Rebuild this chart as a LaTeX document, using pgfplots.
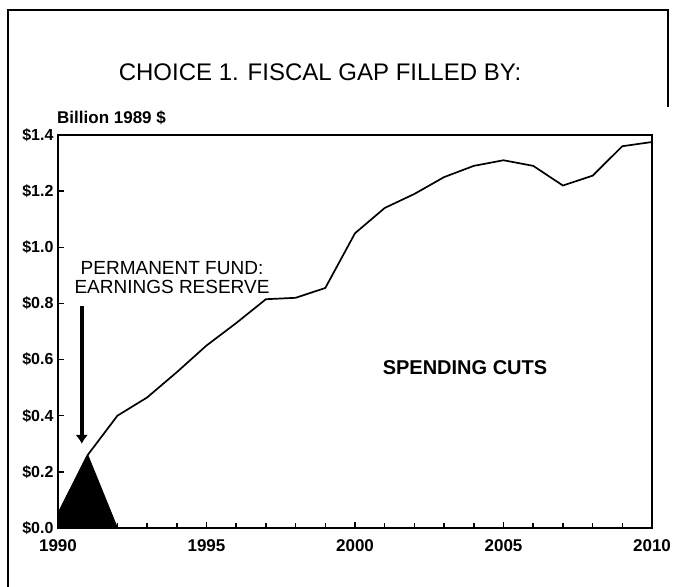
\documentclass[border=0pt]{standalone}
\usepackage{pgfplots}
\pgfplotsset{compat=1.18}
\usepackage{fontspec}
\setmainfont{Liberation Sans}
\usetikzlibrary{arrows.meta}

\begin{document}
\begin{tikzpicture}[x=1bp,y=1bp]
\useasboundingbox (0,0) rectangle (673,587);
% scanned page frame
\draw[line width=1.5bp] (8,0) -- (8,577) -- (668,577) -- (668,480);

\begin{axis}[
    at={(58bp,59bp)}, anchor=south west,
    scale only axis,
    width=594bp, height=393bp,
    xmin=1990, xmax=2010,
    ymin=0, ymax=1.4,
    xtick={1990,1995,2000,2005,2010},
    minor xtick={1991,...,2009},
    xticklabels={1990,1995,2000,2005,2010},
    ytick={0,0.2,0.4,0.6,0.8,1.0,1.2,1.4},
    yticklabels={\$0.0,\$0.2,\$0.4,\$0.6,\$0.8,\$1.0,\$1.2,\$1.4},
    tick align=inside,
    tick pos=left,
    major tick length=6bp, minor tick length=5bp,
    tick style={line width=1.5bp, black},
    axis line style={line width=1.8bp},
    xticklabel style={font=\fontsize{17bp}{20bp}\selectfont\bfseries, yshift=-8bp},
    yticklabel style={font=\fontsize{16bp}{18bp}\selectfont\bfseries, xshift=-1bp},
    clip=false,
]
% Permanent Fund earnings reserve
\addplot[fill=black, draw=black, line width=1pt] coordinates {
    (1990,0) (1990,0.05) (1991,0.26) (1992,0)
} \closedcycle;

% total fiscal gap
\addplot[black, line width=1.7bp] coordinates {
    (1990,0.05) (1991,0.26) (1992,0.40) (1993,0.465) (1994,0.555)
    (1995,0.65) (1996,0.73) (1997,0.815) (1998,0.82) (1999,0.855)
    (2000,1.05) (2001,1.14) (2002,1.19) (2003,1.25) (2004,1.29)
    (2005,1.31) (2006,1.29) (2007,1.22) (2008,1.255) (2009,1.36)
    (2010,1.375)
};

\draw[line width=4.5bp, -{Latex[length=9bp,width=13bp]}]
    (axis cs:1990.8,0.79) -- (axis cs:1990.8,0.30);
\end{axis}

\node[font=\fontsize{24bp}{28bp}\selectfont] at (320,515) {CHOICE 1. FISCAL GAP FILLED BY:};
\node[anchor=west, inner sep=0pt, font=\fontsize{17bp}{19bp}\selectfont\bfseries] at (57,469) {Billion 1989 \$};
\node[align=center, inner sep=0pt, font=\fontsize{19bp}{19bp}\selectfont] at (172,309)
    {PERMANENT FUND:\\EARNINGS RESERVE};
\node[font=\fontsize{20bp}{22bp}\selectfont\bfseries] at (465,219) {SPENDING CUTS};
\end{tikzpicture}
\end{document}
